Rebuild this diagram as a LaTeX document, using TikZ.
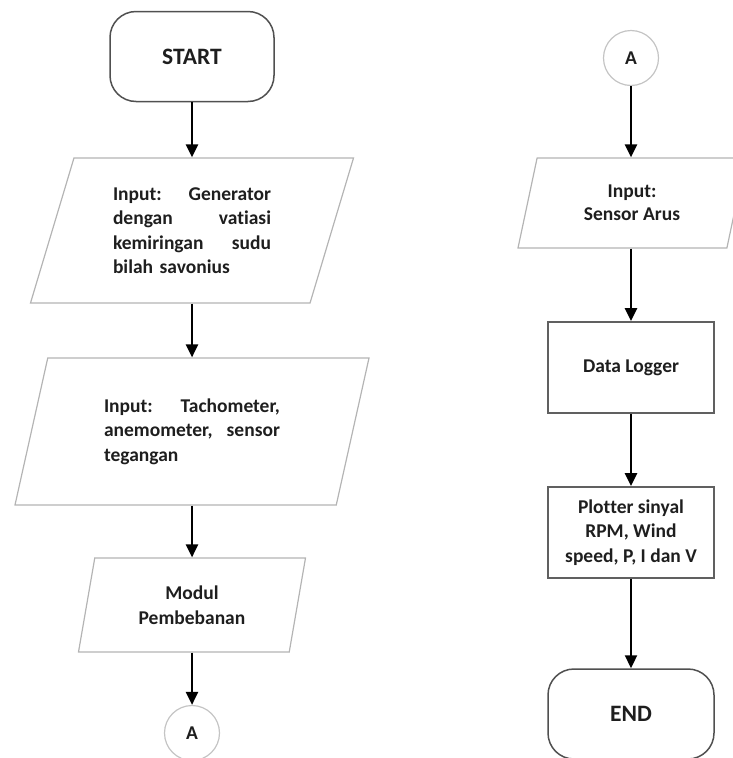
\documentclass[tikz,border=0pt]{standalone}
\usepackage{fontspec}
\setmainfont[Ligatures=NoCommon]{Carlito}
\usetikzlibrary{shapes.geometric,arrows.meta}
\definecolor{paraGray}{HTML}{B4B4B4}
\definecolor{boxGray}{HTML}{606060}
\definecolor{termGray}{HTML}{505050}
\definecolor{circGray}{HTML}{C4C4C4}
\definecolor{txt}{HTML}{1E1E1E}
\tikzset{
  bodyfont/.style={font=\bfseries\fontsize{19.5}{24.5}\selectfont, text=txt},
  para/.style={trapezium, trapezium stretches body, draw=paraGray, line width=1.2pt, inner sep=0pt, bodyfont},
  procbox/.style={rectangle, draw=boxGray, line width=1.8pt, minimum width=166pt, minimum height=91pt, inner sep=0pt, align=center, bodyfont},
  termbox/.style={rectangle, rounded corners=26pt, draw=termGray, line width=1.5pt, minimum width=164pt, minimum height=90pt, inner sep=0pt, font=\bfseries\fontsize{23.5}{26}\selectfont, text=txt},
  conn/.style={circle, draw=circGray, line width=1.2pt, minimum size=55pt, inner sep=0pt, bodyfont},
  arr/.style={line width=2.3pt, black, -{Triangle[width=12pt,length=13pt]}}
}
\begin{document}
\begin{tikzpicture}[x=1pt,y=-1pt]
\useasboundingbox (0,0) rectangle (732,758);
% left column
\node[termbox] (start) at (192,56.5) {START};
\node[para, trapezium left angle=63.3, trapezium right angle=116.7, minimum width=323pt, minimum height=145pt, text width=158pt, align=left] (p1) at (192,230.5)
  {Input:\hfill Generator\\ dengan\hfill vatiasi\\ kemiringan\hfill sudu\\ bilah savonius};
\node[para, trapezium left angle=63.6, trapezium right angle=116.4, minimum width=354pt, minimum height=147pt, text width=176pt, align=left] (p2) at (192,431.5)
  {Input:\hfill Tachometer,\\ anemometer,\hfill sensor\\ tegangan};
\node[para, trapezium left angle=67, trapezium right angle=113, minimum width=227pt, minimum height=94pt, align=center] (p3) at (192,605)
  {Modul\\ Pembebanan};
\node[conn] (a1) at (192,733) {A};
% right column
\node[conn] (a2) at (631,58) {A};
\node[para, trapezium left angle=61.9, trapezium right angle=118.1, minimum width=228pt, minimum height=90pt, align=center, font=\bfseries\fontsize{19.5}{23}\selectfont] (p4) at (632,203)
  {Input:\\ Sensor Arus};
\node[procbox] (dl) at (631,367.5) {Data Logger};
\node[procbox] (pl) at (631,532.5) {Plotter sinyal\\ RPM, Wind\\ speed, P, I dan V};
\node[termbox, minimum width=166pt] (end) at (631,714) {END};
% connectors
\draw[arr] (start.south) -- (start.south |- p1.north);
\draw[arr] (p1.south) -- (p1.south |- p2.north);
\draw[arr] (p2.south) -- (p2.south |- p3.north);
\draw[arr] (p3.south) -- (p3.south |- a1.north);
\draw[arr] (a2.south) -- (a2.south |- p4.north);
\draw[arr] (a2.south |- p4.south) -- (dl.north);
\draw[arr] (dl.south) -- (pl.north);
\draw[arr] (pl.south) -- (end.north);
\end{tikzpicture}
\end{document}
